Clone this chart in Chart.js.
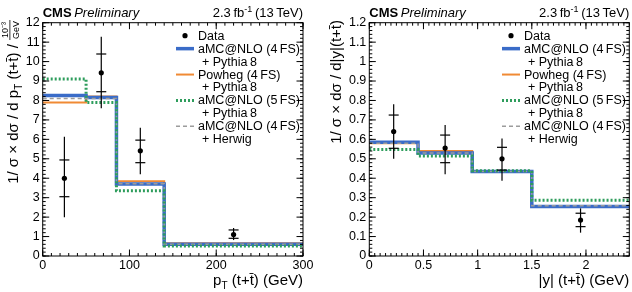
<!DOCTYPE html>
<html><head><meta charset="utf-8">
<script src="https://cdn.jsdelivr.net/npm/chart.js@4"></script>
<style>
html,body{margin:0;padding:0;background:#fff;width:632px;height:292px;overflow:hidden}
canvas{position:absolute;top:0}
</style></head>
<body>
<canvas id="c1" width="316" height="292" style="left:0"></canvas>
<canvas id="c2" width="316" height="292" style="left:316px"></canvas>
<script>
// ---------- data: left panel, pT(t+tbar) ----------
const ptEdges   = [0, 50, 85, 140, 300];
const ptAmc4Py  = [8.25, 8.15, 3.70, 0.60];
const ptPowheg  = [7.90, 8.20, 3.85, 0.66];
const ptAmc5Py  = [9.10, 7.90, 3.35, 0.52];
const ptAmc4Hw  = [8.10, 8.10, 3.72, 0.61];
const ptCenters = [25, 67.5, 112.5, 220];
const ptData    = [4.00, 9.42, 5.41, 1.10];
const ptStatLo  = [3.05, 8.45, 4.80, 0.91];
const ptStatHi  = [4.94, 10.39, 5.96, 1.34];
const ptTotLo   = [1.99, 7.60, 4.20, 0.82];
const ptTotHi   = [6.13, 11.28, 6.60, 1.44];
const ptXTicks  = [0, 100, 200, 300];
const ptYTicks  = [0,1,2,3,4,5,6,7,8,9,10,11,12];

// ---------- data: right panel, |y|(t+tbar) ----------
const yEdges    = [0, 0.45, 0.95, 1.5, 2.4];
const yAmc4Py   = [0.585, 0.530, 0.435, 0.255];
const yPowheg   = [0.580, 0.540, 0.435, 0.255];
const yAmc5Py   = [0.548, 0.515, 0.438, 0.287];
const yAmc4Hw   = [0.580, 0.530, 0.435, 0.258];
const yCenters  = [0.225, 0.70, 1.225, 1.95];
const yData     = [0.640, 0.555, 0.500, 0.185];
const yStatLo   = [0.554, 0.480, 0.442, 0.151];
const yStatHi   = [0.725, 0.622, 0.559, 0.220];
const yTotLo    = [0.500, 0.420, 0.387, 0.120];
const yTotHi    = [0.780, 0.674, 0.605, 0.245];
const yXTicks   = [0, 0.5, 1, 1.5, 2];
const yYTicks   = [0,0.1,0.2,0.3,0.4,0.5,0.6,0.7,0.8,0.9,1,1.1,1.2];

const legendLabels = [
  ['Data'],
  ['aMC@NLO (4\u2009FS)', '+ Pythia\u20098'],
  ['Powheg (4\u2009FS)', '+ Pythia\u20098'],
  ['aMC@NLO (5\u2009FS)', '+ Pythia\u20098'],
  ['aMC@NLO (4\u2009FS)', '+ Herwig']
];

const FF = '"Liberation Sans", Arial, Helvetica, sans-serif';
const fnt = (sz, st) => (st ? st + ' ' : '') + sz + 'px ' + FF;

const STY = {
  amc4py: {color:'#3a6cc8', width:3.5, dash:[]},
  powheg: {color:'#f08a34', width:2,   dash:[]},
  amc5py: {color:'#2e9d5c', width:3,   dash:[2,2]},
  amc4hw: {color:'#9c9c9c', width:1.5, dash:[4,3]}
};

function histData(edges, vals){
  return edges.map((e,i)=>({x:e, y: vals[Math.min(i, vals.length-1)]}));
}

function richWidth(ctx, segs){
  let w = 0;
  for (const s of segs){
    ctx.font = s.font;
    if (s.frac){ w += Math.max(ctx.measureText(s.frac[0]).width, ctx.measureText(s.frac[1]).width) + 2; }
    else w += ctx.measureText(s.text).width;
  }
  return w;
}
function drawRich(ctx, segs, x, y, align){
  const w = richWidth(ctx, segs);
  let cx = align === 'right' ? x - w : x;
  ctx.textBaseline = 'alphabetic'; ctx.textAlign = 'left'; ctx.fillStyle = '#000';
  for (const s of segs){
    ctx.font = s.font;
    if (s.frac){
      const nw = ctx.measureText(s.frac[0]).width, dw = ctx.measureText(s.frac[1]).width;
      const fw = Math.max(nw, dw) + 2;
      ctx.fillText(s.frac[0], cx + (fw-nw)/2, y - 10);
      ctx.fillText(s.frac[1], cx + (fw-dw)/2, y + 0.5);
      ctx.fillRect(cx, y - 8.5, fw, 0.8);
      cx += fw;
    } else {
      ctx.fillText(s.text, cx, y + (s.dy||0));
      cx += ctx.measureText(s.text).width;
    }
  }
}

function makeChart(id, cfg){
  const fmt = v => String(Math.round(v*100)/100);
  const ds = [
    {label:'Data', type:'scatter', data: cfg.centers.map((c,i)=>({x:c, y:cfg.data[i]})),
     pointRadius:2.6, pointBackgroundColor:'#000', pointBorderColor:'#000', borderWidth:0, showLine:false, order:0},
    {label:'amc5py', data: histData(cfg.edges, cfg.amc5), stepped:true, borderColor:STY.amc5py.color,
     borderWidth:STY.amc5py.width, borderDash:STY.amc5py.dash, pointRadius:0, fill:false, order:1, borderCapStyle:'butt'},
    {label:'amc4hw', data: histData(cfg.edges, cfg.amc4hw), stepped:true, borderColor:STY.amc4hw.color,
     borderWidth:STY.amc4hw.width, borderDash:STY.amc4hw.dash, pointRadius:0, fill:false, order:2},
    {label:'amc4py', data: histData(cfg.edges, cfg.amc4py), stepped:true, borderColor:STY.amc4py.color,
     borderWidth:STY.amc4py.width, pointRadius:0, fill:false, order:3},
    {label:'powheg', data: histData(cfg.edges, cfg.powheg), stepped:true, borderColor:STY.powheg.color,
     borderWidth:STY.powheg.width, pointRadius:0, fill:false, order:4}
  ];

  const deco = {
    id:'deco',
    afterDatasetsDraw(chart){
      const ctx = chart.ctx, xs = chart.scales.x, ys = chart.scales.y;
      ctx.save();
      ctx.strokeStyle = '#000'; ctx.lineWidth = 1.2; ctx.setLineDash([]);
      cfg.centers.forEach((c,i)=>{
        const px = xs.getPixelForValue(c);
        const yTop = ys.getPixelForValue(cfg.totHi[i]), yBot = ys.getPixelForValue(cfg.totLo[i]);
        ctx.beginPath(); ctx.moveTo(px, yTop); ctx.lineTo(px, yBot); ctx.stroke();
        [cfg.statLo[i], cfg.statHi[i]].forEach(v=>{
          const py = ys.getPixelForValue(v);
          ctx.beginPath(); ctx.moveTo(px-5, py); ctx.lineTo(px+5, py); ctx.stroke();
        });
      });
      ctx.restore();
    },
    afterDraw(chart){
      const ctx = chart.ctx, xs = chart.scales.x, ys = chart.scales.y, a = chart.chartArea;
      ctx.save();
      // frame
      ctx.strokeStyle = '#000'; ctx.lineWidth = 1; ctx.setLineDash([]);
      ctx.strokeRect(a.left, a.top, a.right-a.left, a.bottom-a.top);
      // ticks inward (all four sides)
      const drawXT = (v, len) => { const p = xs.getPixelForValue(v);
        ctx.beginPath(); ctx.moveTo(p, a.bottom); ctx.lineTo(p, a.bottom-len);
        ctx.moveTo(p, a.top); ctx.lineTo(p, a.top+len); ctx.stroke(); };
      const drawYT = (v, len) => { const p = ys.getPixelForValue(v);
        ctx.beginPath(); ctx.moveTo(a.left, p); ctx.lineTo(a.left+len, p);
        ctx.moveTo(a.right, p); ctx.lineTo(a.right-len, p); ctx.stroke(); };
      for (let k=0; xs.min + k*cfg.xMinor <= xs.max + 1e-9; k++) drawXT(xs.min + k*cfg.xMinor, 3);
      for (let k=0; ys.min + k*cfg.yMinor <= ys.max + 1e-9; k++) drawYT(ys.min + k*cfg.yMinor, 3);
      cfg.xTicks.forEach(v=>drawXT(v, 6.5));
      cfg.yTicks.forEach(v=>drawYT(v, 6.5));

      // header
      ctx.fillStyle = '#000'; ctx.textBaseline = 'alphabetic';
      drawRich(ctx, [{text:'CMS', font:fnt(13,'bold')}, {text:'\u2009', font:fnt(13)}, {text:'Preliminary', font:fnt(13,'italic')}], a.left, 16.5, 'left');
      drawRich(ctx, [{text:'2.3\u2009fb', font:fnt(13)}, {text:'-1', font:fnt(9), dy:-5}, {text:'\u2009(13\u2009TeV)', font:fnt(13)}], a.right, 16.5, 'right');

      // axis titles
      drawRich(ctx, cfg.xTitle, a.right, 285, 'right');
      ctx.save();
      ctx.translate(cfg.yTitleX, 20);
      ctx.rotate(-Math.PI/2);
      drawRich(ctx, cfg.yTitle, 0, 0, 'right');
      ctx.restore();

      // legend
      const lx = cfg.legX, rowH = 12.95, y0 = 35.7;
      let row = 0;
      const keys = [null, 'amc4py', 'powheg', 'amc5py', 'amc4hw'];
      legendLabels.forEach((lines, i)=>{
        const yy = y0 + row*rowH;
        if (i === 0){
          ctx.fillStyle = '#000'; ctx.beginPath(); ctx.arc(lx+9, yy, 2.6, 0, Math.PI*2); ctx.fill();
        } else {
          const s = STY[keys[i]];
          ctx.strokeStyle = s.color; ctx.lineWidth = s.width; ctx.setLineDash(s.dash);
          ctx.beginPath(); ctx.moveTo(lx, yy); ctx.lineTo(lx+18, yy); ctx.stroke();
          ctx.setLineDash([]);
        }
        ctx.fillStyle = '#000'; ctx.font = fnt(12.5); ctx.textBaseline = 'middle'; ctx.textAlign = 'left';
        lines.forEach((t, j)=>{
          ctx.fillText(t, lx + 22 + (j>0 ? 4 : 0), y0 + (row + j)*rowH + 0.5);
        });
        row += lines.length;
      });
      ctx.restore();
    }
  };

  return new Chart(document.getElementById(id), {
    type:'line',
    data:{datasets: ds},
    options:{
      responsive:false, animation:false, devicePixelRatio:1,
      layout:{autoPadding:false, padding:{top:22.7, right:cfg.padR, left:0, bottom:0}},
      plugins:{legend:{display:false}, tooltip:{enabled:false}},
      scales:{
        x:{type:'linear', min:0, max:cfg.xMax,
           grid:{display:false, drawTicks:false}, border:{display:false},
           ticks:{font:{family:FF, size:12.5}, color:'#000', padding:2, maxRotation:0, autoSkip:false, callback:fmt},
           afterBuildTicks:s=>{ s.ticks = cfg.xTicks.map(v=>({value:v})); },
           afterFit:s=>{ s.height = 36; }},
        y:{type:'linear', min:0, max:cfg.yMax,
           grid:{display:false, drawTicks:false}, border:{display:false},
           ticks:{font:{family:FF, size:12.5}, color:'#000', padding:3, autoSkip:false, callback:fmt},
           afterBuildTicks:s=>{ s.ticks = cfg.yTicks.map(v=>({value:v})); },
           afterFit:s=>{ s.width = cfg.yW; }}
      }
    },
    plugins:[deco]
  });
}

const tbar = 't\u0304';
makeChart('c1', {
  edges:ptEdges, amc4py:ptAmc4Py, powheg:ptPowheg, amc5:ptAmc5Py, amc4hw:ptAmc4Hw,
  centers:ptCenters, data:ptData, statLo:ptStatLo, statHi:ptStatHi, totLo:ptTotLo, totHi:ptTotHi,
  xTicks:ptXTicks, yTicks:ptYTicks, xMax:300, yMax:12, xMinor:10, yMinor:0.2,
  yW:42.7, padR:13, legX:176, yTitleX:18,
  xTitle:[{text:'p', font:fnt(15)}, {text:'T', font:fnt(10), dy:3.5}, {text:' (t+'+tbar+') (GeV)', font:fnt(15)}],
  yTitle:[{text:'1/ \u03c3 \u00d7 d\u03c3 / d p', font:fnt(15)}, {text:'T', font:fnt(10), dy:3.5},
          {text:' (t+'+tbar+') / ', font:fnt(15)}, {frac:['10\u207b\u00b3','GeV'], font:fnt(9)}]
});
makeChart('c2', {
  edges:yEdges, amc4py:yAmc4Py, powheg:yPowheg, amc5:yAmc5Py, amc4hw:yAmc4Hw,
  centers:yCenters, data:yData, statLo:yStatLo, statHi:yStatHi, totLo:yTotLo, totHi:yTotHi,
  xTicks:yXTicks, yTicks:yYTicks, xMax:2.4, yMax:1.2, xMinor:0.05, yMinor:0.02,
  yW:53.3, padR:2.7, legX:186, yTitleX:25,
  xTitle:[{text:'|y| (t+'+tbar+') (GeV)', font:fnt(15)}],
  yTitle:[{text:'1/ \u03c3 \u00d7 d\u03c3 / d|y|(t+'+tbar+')', font:fnt(15)}]
});
</script>
</body></html>
